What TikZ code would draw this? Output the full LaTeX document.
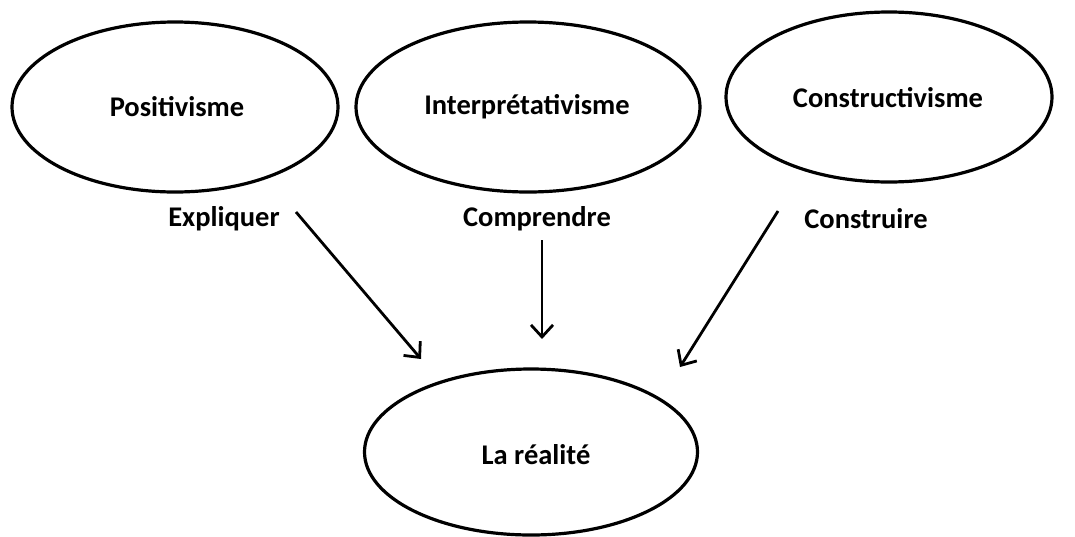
\documentclass[tikz,border=0pt]{standalone}
\usepackage{fontspec}
\setmainfont{Carlito}
\usetikzlibrary{shapes.geometric,arrows.meta}
\begin{document}
\begin{tikzpicture}[x=1pt,y=-1pt,
  oval/.style={draw=black,line width=3.2pt,ellipse,inner sep=0pt},
  lab/.style={font=\bfseries\fontsize{28.5}{34}\selectfont,inner sep=0pt,anchor=center},
  arr/.style={line width=2.8pt,-{Straight Barb[length=12pt,width=22pt,line width=2.8pt]}}]
\useasboundingbox (0,0) rectangle (1075,536);
\node[oval,minimum width=326pt,minimum height=170pt] (pos) at (175,107) {};
\node[oval,minimum width=344pt,minimum height=170pt] (int) at (528,107) {};
\node[oval,minimum width=326pt,minimum height=170pt] (con) at (889,97) {};
\node[oval,minimum width=333pt,minimum height=166pt] (real) at (531,452) {};
\node[lab] (tpos) at (177,107) {Positivisme};
\node[lab] (tint) at (527,107) {Interprétativisme};
\node[lab] (tcon) at (888,98) {Constructivisme};
\node[lab] (treal) at (536,455) {La réalité};
\node[lab] (expl) at (224,219) {Expliquer};
\node[lab] (comp) at (537,219) {Comprendre};
\node[lab] (cons) at (866,219) {Construire};
\coordinate (a1s) at (296,212);
\coordinate (a1e) at (421,359);
\coordinate (a2s) at (542,240);
\coordinate (a2e) at (542,339);
\coordinate (a3s) at (778,211);
\coordinate (a3e) at (680,367);
\draw[arr] (a1s) -- (a1e);
\draw[arr] (a2s) -- (a2e);
\draw[arr] (a3s) -- (a3e);
\end{tikzpicture}
\end{document}
